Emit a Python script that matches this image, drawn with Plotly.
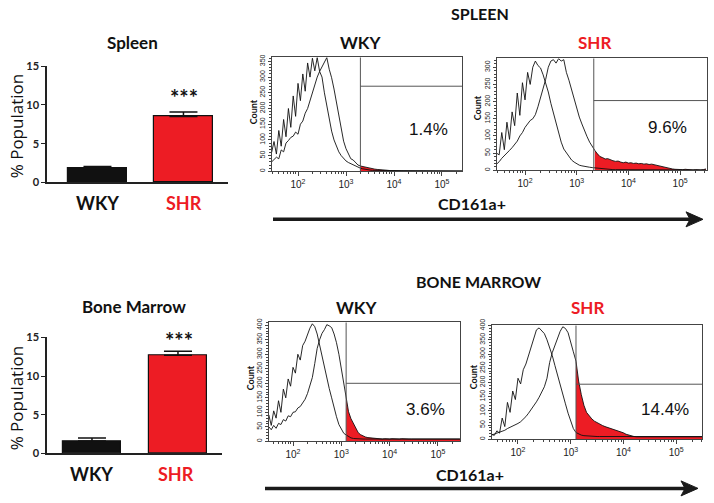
import plotly.graph_objects as go

W, H = 714, 503
RED = "#ED1C24"
BLACK = "#111111"
LINE = "#444444"
BOLD_FONT = "Lato"
PLAIN_FONT = "Liberation Sans"

# ---------------- bar chart data ----------------
GROUPS = ["WKY", "SHR"]
GROUP_COLORS = [BLACK, RED]
SPLEEN_PCT = [1.8, 8.5]
SPLEEN_ERR = [0.25, 0.6]
BM_PCT = [1.6, 12.7]
BM_ERR = [0.4, 0.5]
SIG = "***"
BAR_TICKS = [0, 5, 10, 15]

# ---------------- flow histogram data (log10 CD161a fluorescence bins) ----------------
LOG_BINS = [round(1.45 + 0.05 * i, 2) for i in range(82)]

SPLEEN_WKY_NEG = [60, 95, 55, 130, 80, 165, 110, 200, 140, 240,
                  175, 280, 225, 310, 255, 345, 300, 360, 320, 362,
                  318, 300, 250, 210, 165, 128, 100, 78, 62, 50,
                  40, 33, 28, 24, 21, 18, 14, 10, 8, 6,
                  5, 4, 3, 3, 2, 2, 2, 2, 1, 1,
                  1, 1, 1, 1, 1, 1, 1, 1, 1, 1,
                  1, 1, 1, 1, 1, 1, 1, 1, 1, 1,
                  1, 1, 1, 1, 1, 1, 1, 1, 1, 1,
                  1, 1]
SPLEEN_WKY_POS = [30, 38, 45, 40, 68, 62, 90, 98, 108, 112,
                  125, 118, 150, 160, 185, 200, 225, 255, 275, 300,
                  318, 332, 345, 362, 325, 298, 262, 218, 172, 132,
                  96, 72, 55, 40, 36, 27, 20, 17, 15, 13,
                  11, 10, 8, 7, 6, 5, 4, 4, 3, 3,
                  2, 2, 1, 2, 1, 1, 2, 1, 1, 1,
                  2, 1, 1, 1, 1, 2, 1, 1, 1, 1,
                  1, 1, 1, 1, 1, 1, 1, 1, 1, 1,
                  1, 8]
SPLEEN_SHR_NEG = [50, 45, 110, 60, 140, 90, 170, 130, 225, 160,
                  255, 205, 285, 250, 300, 318, 305, 298, 278, 255,
                  228, 195, 165, 135, 106, 82, 62, 50, 38, 30,
                  24, 19, 15, 13, 11, 10, 9, 8, 7, 6,
                  5, 4, 3, 3, 3, 2, 2, 2, 2, 2,
                  1, 1, 1, 1, 1, 1, 1, 1, 1, 1,
                  1, 1, 1, 1, 1, 1, 1, 1, 1, 1,
                  1, 1, 1, 1, 1, 1, 1, 1, 1, 1,
                  1, 1]
SPLEEN_SHR_POS = [18, 25, 35, 42, 50, 58, 66, 75, 85, 100,
                  110, 125, 135, 145, 150, 162, 185, 210, 240, 265,
                  300, 318, 322, 312, 325, 318, 322, 285, 262, 235,
                  205, 180, 155, 135, 115, 98, 82, 68, 58, 48,
                  40, 37, 33, 34, 30, 28, 26, 27, 24, 22,
                  24, 21, 22, 20, 21, 19, 20, 18, 19, 17,
                  18, 16, 15, 13, 11, 9, 7, 5, 4, 3,
                  2, 2, 2, 3, 2, 2, 1, 2, 1, 1,
                  2, 4]
BM_WKY_NEG = [60, 90, 55, 105, 80, 140, 100, 180, 150, 215,
              190, 255, 235, 300, 280, 330, 345, 370, 390, 405,
              395, 370, 330, 295, 255, 220, 182, 150, 112, 85,
              58, 40, 28, 22, 16, 12, 10, 9, 8, 8,
              8, 8, 8, 8, 8, 8, 8, 8, 8, 8,
              8, 8, 8, 8, 8, 8, 8, 8, 8, 8,
              8, 8, 8, 8, 8, 8, 8, 8, 8, 8,
              8, 8, 8, 8, 8, 8, 8, 8, 8, 8,
              8, 8]
BM_WKY_POS = [55, 50, 40, 55, 45, 62, 58, 75, 70, 88,
              85, 100, 102, 115, 120, 132, 145, 165, 190, 220,
              268, 320, 350, 372, 385, 402, 398, 392, 370, 340,
              300, 250, 200, 150, 102, 78, 62, 44, 30, 23,
              18, 15, 13, 12, 11, 10, 9, 9, 8, 9,
              8, 8, 9, 8, 8, 8, 9, 8, 8, 8,
              8, 8, 8, 9, 8, 8, 8, 8, 8, 9,
              8, 8, 8, 8, 8, 8, 9, 8, 8, 8,
              8, 12]
BM_SHR_NEG = [12, 18, 14, 30, 22, 75, 45, 130, 95, 170,
              140, 215, 195, 245, 265, 295, 320, 350, 385, 392,
              383, 372, 350, 325, 295, 260, 228, 198, 160, 125,
              92, 68, 38, 24, 18, 15, 13, 12, 12, 11,
              11, 10, 10, 10, 10, 10, 10, 10, 10, 10,
              10, 10, 10, 10, 10, 10, 10, 10, 10, 10,
              10, 10, 10, 10, 10, 10, 10, 10, 10, 10,
              10, 10, 10, 10, 10, 10, 10, 10, 10, 10,
              10, 10]
BM_SHR_POS = [12, 15, 18, 22, 24, 28, 32, 38, 42, 46,
              50, 56, 62, 70, 80, 92, 104, 116, 132, 148,
              165, 185, 215, 270, 305, 332, 360, 380, 396, 390,
              375, 345, 308, 275, 205, 158, 120, 95, 82, 72,
              64, 58, 52, 49, 45, 42, 39, 36, 33, 30,
              27, 23, 18, 15, 12, 10, 9, 9, 10, 9,
              9, 9, 10, 9, 9, 9, 9, 10, 9, 9,
              9, 9, 10, 9, 9, 9, 9, 9, 10, 9,
              9, 9]

GATES = [3.30, 3.33, 3.10, 3.10]            # log10 gate positions
GATE_LEVELS = [271, 203, 200, 194]          # horizontal marker levels
PCT_TEXT = ["1.4%", "9.6%", "3.6%", "14.4%"]
COUNT_TICKS = [[0, 50, 100, 150, 200, 250, 300, 350],
               [0, 50, 100, 150, 200, 250, 300],
               [0, 50, 100, 150, 200, 250, 300, 350, 400],
               [0, 50, 100, 150, 200, 250, 300, 350, 400]]
SECTION_TITLES = ["SPLEEN", "BONE MARROW"]
AXIS_LABEL = "CD161a+"

# observed vertical mapping of the photographed page (render y = Y_OFF + Y_SCALE * layout y)
Y_OFF, Y_SCALE = 6.7, 0.974


def px(x):
    return x / W


def py(y):
    return 1 - ((y - Y_OFF) / Y_SCALE) / H


fig = go.Figure()

# ---------------- bar charts ----------------
for k, (vals, errs, width) in enumerate([(SPLEEN_PCT, SPLEEN_ERR, 0.69), (BM_PCT, BM_ERR, 0.67)]):
    xa = "x" if k == 0 else "x2"
    ya = "y" if k == 0 else "y2"
    fig.add_trace(go.Bar(
        x=GROUPS, y=vals, width=width,
        marker=dict(color=GROUP_COLORS, line=dict(color=BLACK, width=1.2)),
        error_y=dict(type="data", array=errs, arrayminus=[0, 0], symmetric=False,
                     color=BLACK, thickness=1.5, width=14),
        xaxis=xa, yaxis=ya, showlegend=False, hoverinfo="skip"))

# ---------------- histograms ----------------
panels = [
    (SPLEEN_WKY_NEG, SPLEEN_WKY_POS),
    (SPLEEN_SHR_NEG, SPLEEN_SHR_POS),
    (BM_WKY_NEG, BM_WKY_POS),
    (BM_SHR_NEG, BM_SHR_POS),
]
hist_geom = [  # x px, y px (top, bottom), log range, count range
    dict(x=(272, 462), y=(57, 171), xr=(1.458, 5.417), yr=(0, 363)),
    dict(x=(497, 707), y=(58, 170), xr=(1.458, 5.52), yr=(0, 326)),
    dict(x=(269, 460), y=(322, 441), xr=(1.503, 5.457), yr=(0, 410)),
    dict(x=(492, 702), y=(325, 439), xr=(1.507, 5.49), yr=(0, 401)),
]

layout_axes = {}
for i, ((neg, pos), g) in enumerate(zip(panels, hist_geom)):
    n = i + 3
    xa, ya = f"x{n}", f"y{n}"
    gate = GATES[i]
    fx = [10 ** v for v, c in zip(LOG_BINS, pos) if v >= gate - 1e-9]
    fy = [c for v, c in zip(LOG_BINS, pos) if v >= gate - 1e-9]
    fig.add_trace(go.Scatter(x=fx, y=fy, mode="lines", line=dict(width=0, color=RED),
                             fill="tozeroy", fillcolor=RED, xaxis=xa, yaxis=ya,
                             showlegend=False, hoverinfo="skip"))
    for series in (neg, pos):
        fig.add_trace(go.Scatter(x=[10 ** v for v in LOG_BINS], y=series, mode="lines",
                                 line=dict(color=BLACK, width=0.9), xaxis=xa, yaxis=ya,
                                 showlegend=False, hoverinfo="skip"))
    top = g["yr"][1]
    right = 10 ** g["xr"][1]
    fig.add_trace(go.Scatter(x=[10 ** gate, 10 ** gate, None, 10 ** gate, right],
                             y=[0, top, None, GATE_LEVELS[i], GATE_LEVELS[i]],
                             mode="lines", line=dict(color="#555555", width=1),
                             xaxis=xa, yaxis=ya, showlegend=False, hoverinfo="skip"))

    layout_axes[f"xaxis{n}"] = dict(
        domain=[px(g["x"][0]), px(g["x"][1])], range=list(g["xr"]), type="log",
        anchor=ya, showline=True, mirror=True, linecolor=LINE, linewidth=1,
        ticks="outside", ticklen=4, tickcolor=LINE, dtick=1, exponentformat="power",
        tickfont=dict(family=PLAIN_FONT, size=8, color="#222"),
        minor=dict(ticks="outside", ticklen=2, dtick="D1", tickcolor=LINE),
        showgrid=False, zeroline=False)
    layout_axes[f"yaxis{n}"] = dict(
        domain=[py(g["y"][1]), py(g["y"][0])], range=list(g["yr"]),
        anchor=xa, showline=True, mirror=True, linecolor=LINE, linewidth=1,
        ticks="outside", ticklen=3, tickcolor=LINE, tickvals=COUNT_TICKS[i],
        tickangle=-90, tickfont=dict(family=PLAIN_FONT, size=7, color="#222"),
        minor=dict(ticks="outside", ticklen=2, dtick=10, tickcolor=LINE),
        showgrid=False, zeroline=False)

bar_geom = [dict(x=(47, 228), y=(66, 182), xr=(-0.587, 1.518)),
            dict(x=(47, 222), y=(337, 453), xr=(-0.523, 1.512))]
for k, g in enumerate(bar_geom):
    sx = "" if k == 0 else "2"
    layout_axes[f"xaxis{sx}"] = dict(
        domain=[px(g["x"][0]), px(g["x"][1])], range=list(g["xr"]), type="category",
        anchor=f"y{sx}", showline=True, linecolor="#222", linewidth=1.5,
        showticklabels=False, ticks="", showgrid=False, zeroline=False)
    layout_axes[f"yaxis{sx}"] = dict(
        domain=[py(g["y"][1]), py(g["y"][0])], range=[0, 15], tickvals=BAR_TICKS,
        anchor=f"x{sx}", showline=True, linecolor="#222", linewidth=1.5,
        ticks="outside", ticklen=4, tickcolor="#222",
        tickfont=dict(family=BOLD_FONT, size=11, color="#222", weight="bold"),
        showgrid=False, zeroline=False)

ann = []


def text(x, y, s, size, color=BLACK, bold=True, family=None, angle=0):
    ann.append(dict(x=px(x), y=py(y), xref="paper", yref="paper", text=s, showarrow=False,
                    xanchor="center", yanchor="middle", textangle=angle,
                    font=dict(family=family or (BOLD_FONT if bold else PLAIN_FONT), size=size,
                              color=color, weight="bold" if bold else "normal")))


# bar chart texts
text(132, 42, "Spleen", 17)
text(134, 306, "Bone Marrow", 17)
text(16, 126, "% Population", 17, bold=False, family="Open Sans", angle=-90)
text(16, 398, "% Population", 17, bold=False, family="Open Sans", angle=-90)
text(184, 97, SIG, 22)
text(179, 340, SIG, 22)
for (xw, xs, yl) in [(97.5, 184, 203), (92, 176, 474)]:
    text(xw, yl, GROUPS[0], 18, color=GROUP_COLORS[0])
    text(xs, yl, GROUPS[1], 18, color=GROUP_COLORS[1])

# histogram texts
text(480, 13, SECTION_TITLES[0], 16)
text(479, 281, SECTION_TITLES[1], 16)
text(361, 42, GROUPS[0], 17)
text(594, 42, GROUPS[1], 17, color=RED)
text(357, 307, GROUPS[0], 17)
text(587, 307, GROUPS[1], 17, color=RED)
for (x, y), s in zip([(428, 129), (667, 127), (425, 409), (665, 409)], PCT_TEXT):
    text(x, y, s, 17, bold=False)
for (x, y) in [(253, 112), (477, 107), (250, 377), (473, 377)]:
    text(x, y, "Count", 9, angle=-90)
text(472, 203, AXIS_LABEL, 16)
text(470, 474, AXIS_LABEL, 16)

shapes = []
for (x0, x1, tip, y) in [(273, 690, 703, 219), (265, 685, 698, 488)]:
    shapes.append(dict(type="line", xref="paper", yref="paper", x0=px(x0), x1=px(x1),
                       y0=py(y), y1=py(y), line=dict(color="#1a1a1a", width=3.5)))
    b = tip - 17
    path = (f"M {px(b)} {py(y - 7.5)} L {px(tip)} {py(y)} L {px(b)} {py(y + 7.5)} "
            f"L {px(b + 4)} {py(y)} Z")
    shapes.append(dict(type="path", xref="paper", yref="paper", path=path,
                       fillcolor="#1a1a1a", line=dict(color="#1a1a1a", width=1)))

fig.update_layout(
    width=W, height=H, margin=dict(l=0, r=0, t=0, b=0),
    paper_bgcolor="white", plot_bgcolor="white",
    annotations=ann, shapes=shapes, showlegend=False, bargap=0,
    **layout_axes)

PAGE_CSS = "margin:0;padding:0;overflow:hidden;height:503px;width:714px;"
fig.write_html(
    "out.html",
    config={"displayModeBar": False, "responsive": False},
    post_script=(f"document.documentElement.style.cssText='{PAGE_CSS}';"
                 f"document.body.style.cssText='{PAGE_CSS}';"))
